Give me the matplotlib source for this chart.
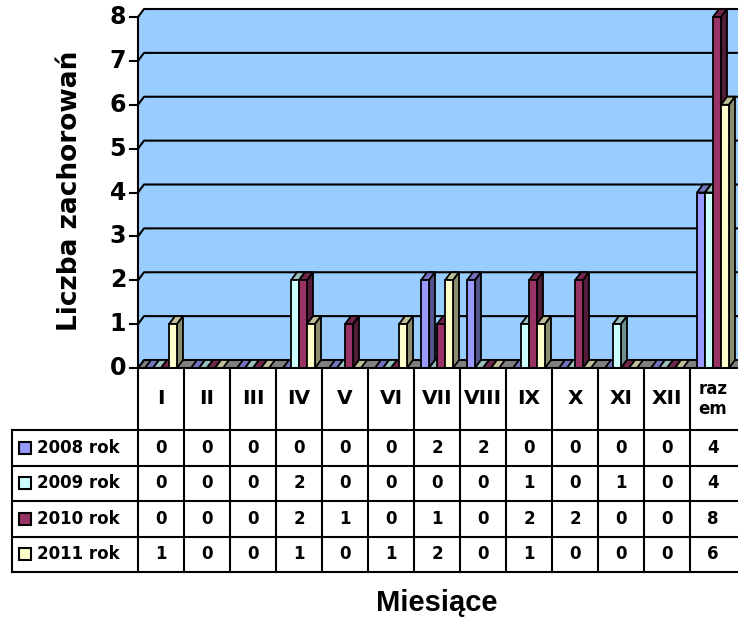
import matplotlib
matplotlib.use("Agg")
import matplotlib.pyplot as plt
from matplotlib.patches import Polygon, Rectangle
import numpy as np

months = ["I", "II", "III", "IV", "V", "VI", "VII", "VIII", "IX", "X", "XI", "XII", "raz\nem"]
series_names = ["2008 rok", "2009 rok", "2010 rok", "2011 rok"]
cases_2008 = [0, 0, 0, 0, 0, 0, 2, 2, 0, 0, 0, 0, 4]
cases_2009 = [0, 0, 0, 2, 0, 0, 0, 0, 1, 0, 1, 0, 4]
cases_2010 = [0, 0, 0, 2, 1, 0, 1, 0, 2, 2, 0, 0, 8]
cases_2011 = [1, 0, 0, 1, 0, 1, 2, 0, 1, 0, 0, 0, 6]
series = [cases_2008, cases_2009, cases_2010, cases_2011]
colors = ["#9999FF", "#CCFFFF", "#993366", "#FFFFCC"]
y_ticks = list(range(0, 9))

W, H = 738, 618
BOLD = dict(family="DejaVu Sans", fontweight="bold", color="black")
LW = 1.5


def shade(hex_color, f):
    rgb = np.array(matplotlib.colors.to_rgb(hex_color))
    return tuple(rgb * f)


fig = plt.figure(figsize=(W / 100, H / 100), dpi=100)
fig.patch.set_facecolor("white")

# chart area: 13 columns of 46 px, value 0..8 over 351 px
ax = fig.add_axes([138 / W, 1 - 368 / H, 598 / W, 351 / H])
ax.set_xlim(0, 13)
ax.set_ylim(0, 8)
ax.axis("off")

ncat = len(months)
DX = 6 / 46          # depth offset in category units
DY = 8 / (351 / 8)   # depth offset in value units
XR = ncat + 0.5      # walls run past the right edge

# back wall + left wall
wall = Polygon([(0, 0), (0, 8), (DX, 8 + DY), (XR, 8 + DY), (XR, DY), (DX, DY)],
               closed=True, facecolor="#99CCFF", edgecolor="none", zorder=1, clip_on=False)
ax.add_patch(wall)
# floor
floor = Polygon([(0, 0), (DX, DY), (XR, DY), (XR, 0)], closed=True,
                facecolor="#808080", edgecolor="none", zorder=2, clip_on=False)
ax.add_patch(floor)

for v in y_ticks:
    ax.plot([0, DX, XR], [v, v + DY, v + DY], color="black", lw=LW, zorder=3,
            clip_on=False, solid_capstyle="butt")
    ax.plot([-8 / 46, 0], [v, v], color="black", lw=LW, zorder=3, clip_on=False)
    ax.text(-12 / 46, v, str(v), ha="right", va="center", fontsize=17, **BOLD)
ax.plot([0, 0], [0, 8], color="black", lw=LW, zorder=3, clip_on=False)

# 3D bars: front face, top face, right side face
bw = 8 / 46
for i in range(ncat):
    for j, vals in enumerate(series):
        h = vals[i]
        x0 = i + (7 + 8 * j) / 46
        z = 4 + i * 0.01 + j * 0.001
        top = Polygon([(x0, h), (x0 + bw, h), (x0 + bw + DX, h + DY), (x0 + DX, h + DY)],
                      closed=True, facecolor=shade(colors[j], 0.75), edgecolor="black",
                      lw=1.3, zorder=z, clip_on=False)
        ax.add_patch(top)
        if h > 0:
            side = Polygon([(x0 + bw, 0), (x0 + bw + DX, DY), (x0 + bw + DX, h + DY), (x0 + bw, h)],
                           closed=True, facecolor=shade(colors[j], 0.55), edgecolor="black",
                           lw=1.3, zorder=z, clip_on=False)
            ax.add_patch(side)
            ax.add_patch(Rectangle((x0, 0), bw, h, facecolor=colors[j], edgecolor="black",
                                   lw=1.3, zorder=z, clip_on=False))

# data table under the chart
tax = fig.add_axes([138 / W, 1 - 572 / H, 598 / W, 204 / H])
tax.set_xlim(0, 13)
tax.set_ylim(204, 0)
tax.axis("off")
row_edges = [0, 62, 97.5, 133, 168.5, 204]
x_leg = -126 / 46

for k, y in enumerate(row_edges):
    x_start = 0 if k == 0 else x_leg
    tax.plot([x_start, XR], [y, y], color="black", lw=LW, clip_on=False, solid_capstyle="projecting")
tax.plot([x_leg, x_leg], [62, 204], color="black", lw=LW, clip_on=False)
for i in range(ncat):
    tax.plot([i, i], [0, 204], color="black", lw=LW, clip_on=False)

for i, m in enumerate(months):
    if "\n" in m:
        tax.text(i + 0.5, 31, m, ha="center", va="center", fontsize=12,
                 linespacing=1.1, **BOLD)
    else:
        tax.text(i + 0.5, 31, m, ha="center", va="center", fontsize=14.5, **BOLD)

for r, (name, vals) in enumerate(zip(series_names, series)):
    yc = (row_edges[r + 1] + row_edges[r + 2]) / 2
    tax.add_patch(Rectangle(((19 - 138) / 46, yc - 6), 12 / 46, 12, facecolor=colors[r],
                            edgecolor="black", lw=1.5, clip_on=False))
    tax.text((37 - 138) / 46, yc, name, ha="left", va="center", fontsize=12, **BOLD)
    for i, v in enumerate(vals):
        tax.text(i + 0.5, yc, str(v), ha="center", va="center", fontsize=12, **BOLD)

fig.text(437 / W, 1 - 603 / H, "Miesiące", ha="center", va="center", fontsize=21,
         family="Liberation Sans", fontweight="bold")
fig.text(70 / W, 1 - 191 / H, "Liczba zachorowań", ha="center", va="center",
         rotation=90, fontsize=19, **BOLD)

fig.savefig("out.png", dpi=100, facecolor="white")
